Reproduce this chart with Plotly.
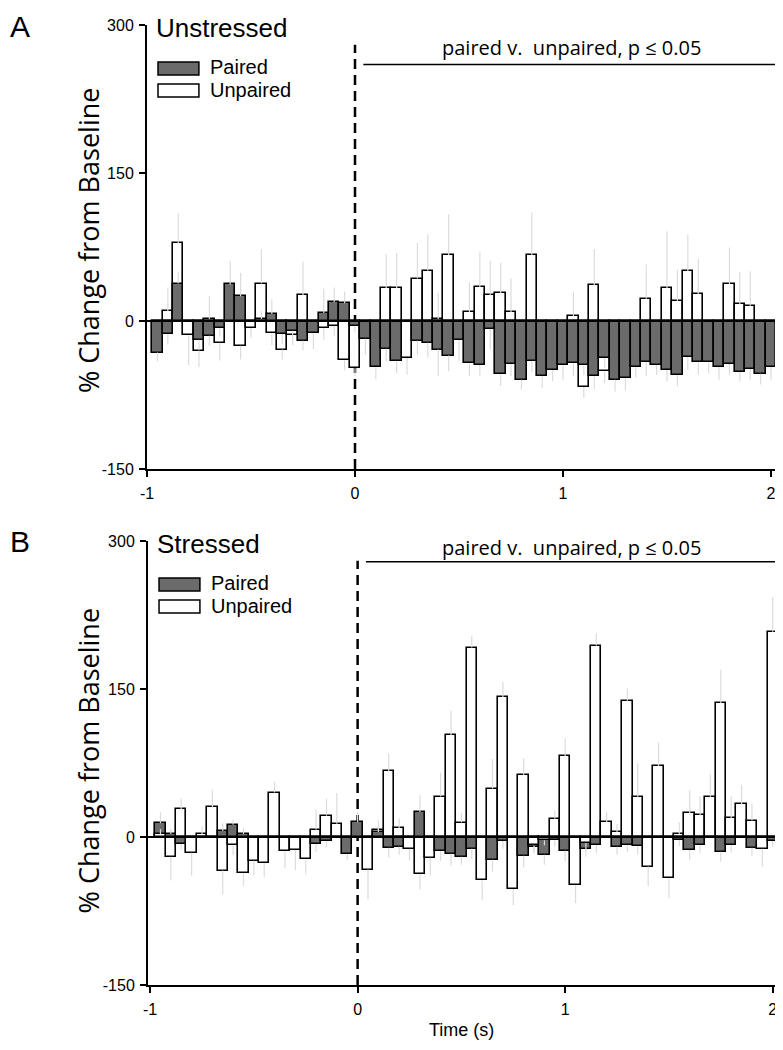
import plotly.graph_objects as go

# ---------------- data ----------------
time_bins = [-0.95, -0.90, -0.85, -0.80, -0.75, -0.70, -0.65, -0.60, -0.55, -0.50,
             -0.45, -0.40, -0.35, -0.30, -0.25, -0.20, -0.15, -0.10, -0.05, 0.00,
             0.05, 0.10, 0.15, 0.20, 0.25, 0.30, 0.35, 0.40, 0.45, 0.50,
             0.55, 0.60, 0.65, 0.70, 0.75, 0.80, 0.85, 0.90, 0.95, 1.00,
             1.05, 1.10, 1.15, 1.20, 1.25, 1.30, 1.35, 1.40, 1.45, 1.50,
             1.55, 1.60, 1.65, 1.70, 1.75, 1.80, 1.85, 1.90, 1.95, 2.00]

# Panel A - Unstressed
unstressed_paired = [-32, -13.5, 38, 0, -19, -15, -7.5, 37, 25, 0,
                     2, 7, -13.5, -10, -20, -12.5, 8, 19, 18, -5,
                     -18, -47, -28, -41, 0, -20, -22, -29, -35, -19.6,
                     -43, -44.6, -8, -54, -43.6, -59.5, -41, -56, -50, -45,
                     -42.6, -45, -56, -37.5, -59.5, -58, -46.6, -42, -44.6, -49.7,
                     -54.7, -36.5, -42, -42, -46.6, -43.6, -51.7, -48.6, -53.4, -46.6]
unstressed_unpaired = [0, 10, 79, -14.5, -30, 2, -22, 0, -25, -7,
                       38, -12.5, -29, -14.5, 26, 0, -7, -5, -40, -48,
                       0, 0, 33, 33, -37.5, 43, 51, 2, 67, 0,
                       9, 34.5, 26, 28, 9, 0, 67, 0, 0, 0,
                       4.7, -67, 36, -51, 0, 0, 0, 22.5, 0, 33,
                       20, 50.5, 27, 0, 0, 37.5, 17, 15.5, 0, 0]
unstressed_paired_err = [9, 10, 12, 0, 10, 10, 8, 24, 24, 0,
                         8, 15, 10, 8, 10, 16, 25, 15, 12, 6,
                         16, 12, 12.5, 12, 0, 14, 15, 27, 16, 21,
                         13, 11.5, 21, 12, 12.5, 10, 11, 12, 11, 14.5,
                         13.5, 10, 13.5, 10, 12, 12, 11, 14, 10, 11.5,
                         11.5, 13, 12.5, 11, 13, 11, 9.5, 11, 11, 13]
unstressed_unpaired_err = [0, 24, 30, 30, 17, 23, 18, 0, 14, 10,
                           35, 12, 10, 10, 34, 0, 12, 10, 10, 8,
                           0, 0, 35, 36, 17, 36, 37, 26, 41, 0,
                           30, 35, 35, 31, 34, 0, 43, 0, 0, 0,
                           25, 11, 37, 12, 0, 0, 0, 35, 0, 58,
                           32, 37, 36, 0, 0, 37, 33, 35, 0, 0]

# Panel B - Stressed
stressed_paired = [14, 3, -7, 0, 0, 0, 6, 12.5, 3, 0,
                   0, 0, 0, 0, 0, -7, -4.5, 0, -17.6, 15,
                   0, 5, -11, -10, 0, 25.4, 0, -14.6, -17, -20,
                   -12, 0, -23, -4, 0, -19, -10, -18, -3.4, -14,
                   0, -12, -8, 0, -10, -8, -9.5, 0, 0, 0,
                   -3, -13.5, -8.5, 0, -15, -8, 0, -11, 0, -4]
stressed_unpaired = [3, -20, 28, -16, 3, 30, -34, -8.5, -36.5, -24,
                     -26.5, 45, -14.5, -13.5, -22.7, 7.5, 21.7, 13.5, 0, 0,
                     -33, 7, 67, 9, -12, -38, -21, 41, 103, 14.6,
                     192, -44, 49, 142, -53, 62.7, -8.5, -3.4, 18.6, 82,
                     -49, -6, 194, 15, 5, 138, 40.7, -30, 72, -42,
                     3, 24.4, 22, 40.7, 135.6, 19.3, 33, 16.6, -12, 208]
stressed_paired_err = [11, 5, 6, 0, 0, 0, 8, 5, 6, 0,
                       0, 0, 0, 0, 0, 8, 6, 0, 6, 10,
                       0, 6, 10, 8, 0, 17, 0, 10, 12, 8,
                       10, 0, 12, 8, 0, 12, 6, 10, 6, 10,
                       0, 8, 8, 0, 8, 7, 8, 0, 0, 0,
                       6, 10, 8, 0, 10, 8, 0, 8, 0, 6]
stressed_unpaired_err = [5, 24, 11, 23, 8, 18, 24, 10, 13, 15,
                         14, 11, 17, 20, 15, 20, 17, 31, 0, 0,
                         30, 10, 18, 10, 12, 15, 18, 24, 25, 10,
                         12, 20, 30, 15, 16, 17, 8, 5, 8, 18,
                         18, 8, 12, 10, 8, 12.5, 34, 20, 24, 20,
                         12, 23, 19, 23, 34, 22, 20, 17, 18, 35]

y_ticks = [-150, 0, 150, 300]
y_tick_labels = ["-150", "0", "150", "300"]
x_ticks = [-1, 0, 1, 2]
x_tick_labels = ["-1", "0", "1", "2"]
panel_titles = ["Unstressed", "Stressed"]
series_names = ["Paired", "Unpaired"]
sig_text = "paired v.  unpaired, p \u2264 0.05"

# ---------------- style ----------------
DARK = "#6b6b6b"
ERR = "#dcdcdc"
ARIAL = "Liberation Sans, Arial, sans-serif"
MYRIAD = "Open Sans, Liberation Sans, sans-serif"

fig = go.Figure()


def err_arrays(vals, errs):
    plus = [e if (v is not None and v > 0) else 0 for v, e in zip(vals, errs)]
    minus = [e if (v is not None and v < 0) else 0 for v, e in zip(vals, errs)]
    return plus, minus


def add_bar(vals, errs, color, xa, ya, name):
    plus, minus = err_arrays(vals, errs)
    fig.add_trace(go.Bar(
        x=time_bins, y=vals, width=0.05, name=name, showlegend=False,
        marker=dict(color=color, line=dict(color="black", width=1.6)),
        error_y=dict(type="data", symmetric=False, array=plus, arrayminus=minus,
                     color=ERR, thickness=1.2, width=0),
        xaxis=xa, yaxis=ya, hoverinfo="x+y"))


def add_panel(paired, unpaired, perr, uerr, xa, ya):
    # the smaller of two same-signed bars is drawn in front
    front = [(u * p > 0 and abs(u) < abs(p)) for p, u in zip(paired, unpaired)]
    u_back = [None if f else u for u, f in zip(unpaired, front)]
    u_front = [u if f else None for u, f in zip(unpaired, front)]
    add_bar(u_back, uerr, "white", xa, ya, series_names[1])
    add_bar(paired, perr, DARK, xa, ya, series_names[0])
    add_bar(u_front, uerr, "white", xa, ya, series_names[1])


add_panel(unstressed_paired, unstressed_unpaired,
          unstressed_paired_err, unstressed_unpaired_err, "x", "y")
add_panel(stressed_paired, stressed_unpaired,
          stressed_paired_err, stressed_unpaired_err, "x2", "y2")

axis_common = dict(showline=True, linecolor="black", linewidth=2,
                   ticks="outside", ticklen=6, tickwidth=1.6, tickcolor="black",
                   showgrid=False, zeroline=False,
                   tickfont=dict(family=ARIAL, size=16, color="black"))

# page body has an 8px default margin: figure sized/margined to compensate
fig.update_layout(
    width=775, height=1042,
    margin=dict(l=139, r=2, t=17, b=65),
    paper_bgcolor="white", plot_bgcolor="white",
    barmode="overlay", bargap=0,
    showlegend=False,
    xaxis=dict(domain=[0, 0.9984], range=[-1, 2.043], tickvals=x_ticks, ticktext=x_tick_labels,
               anchor="y", ticklabelstandoff=3, **axis_common),
    yaxis=dict(domain=[0.5375, 1], range=[-150, 300], tickvals=y_ticks, ticktext=y_tick_labels,
               anchor="x", ticklabelstandoff=2, **axis_common),
    xaxis2=dict(domain=[0.0016, 1], range=[-1.01, 2.04], tickvals=x_ticks, ticktext=x_tick_labels,
                anchor="y2", ticklabelstandoff=3, **axis_common),
    yaxis2=dict(domain=[0, 0.4625], range=[-150, 300], tickvals=y_ticks, ticktext=y_tick_labels,
                anchor="x2", ticklabelstandoff=2, **axis_common),
)

shapes = []
annotations = []
panels = [("x", "y", 2.043, 260, 277, 1.04, 0.776, 1.0177, "A"),
          ("x2", "y2", 2.04, 279, 293, 1.03, 0.234, 0.481, "B")]
for i, (xa, ya, xmax, sig_y, sig_ty, sig_tx, ylab_y, letter_y, letter) in enumerate(panels):
    shapes.append(dict(type="line", xref=xa, yref=ya, x0=0, x1=0, y0=-150, y1=280,
                       line=dict(color="black", width=2.5, dash="10px,6px"), layer="below"))
    shapes.append(dict(type="line", xref=xa, yref=ya, x0=-1.01, x1=xmax, y0=0, y1=0,
                       line=dict(color="black", width=2), layer="above"))
    shapes.append(dict(type="line", xref=xa, yref=ya, x0=0.04, x1=xmax, y0=sig_y, y1=sig_y,
                       line=dict(color="black", width=1.5)))
    annotations.append(dict(text=sig_text, xref=xa, yref=ya, x=sig_tx, y=sig_ty,
                            showarrow=False, xanchor="center", yanchor="middle",
                            font=dict(family=MYRIAD, size=20, color="black")))
    annotations.append(dict(text=panel_titles[i], xref=xa + " domain", yref=ya, x=0.011, y=297,
                            showarrow=False, xanchor="left", yanchor="middle",
                            font=dict(family=ARIAL, size=26, color="black")))
    dom = xa + " domain"
    ydom = ya + " domain"
    shapes.append(dict(type="rect", xref=dom, yref=ydom, x0=0.0174, x1=0.082,
                       y0=0.8874, y1=0.9167, fillcolor=DARK,
                       line=dict(color="black", width=1.5)))
    shapes.append(dict(type="rect", xref=dom, yref=ydom, x0=0.0174, x1=0.082,
                       y0=0.8378, y1=0.8671, fillcolor="white",
                       line=dict(color="black", width=1.5)))
    annotations.append(dict(text=series_names[0], xref=dom, yref=ydom, x=0.097, y=0.905,
                            showarrow=False, xanchor="left", yanchor="middle",
                            font=dict(family=ARIAL, size=20, color="black")))
    annotations.append(dict(text=series_names[1], xref=dom, yref=ydom, x=0.097, y=0.853,
                            showarrow=False, xanchor="left", yanchor="middle",
                            font=dict(family=ARIAL, size=20, color="black")))
    annotations.append(dict(text="% Change from Baseline", xref="paper", yref="paper",
                            x=-0.093, y=ylab_y, textangle=-90, showarrow=False,
                            xanchor="center", yanchor="middle",
                            font=dict(family=MYRIAD, size=27, color="black")))
    annotations.append(dict(text=letter, xref="paper", yref="paper", x=-0.219, y=letter_y,
                            showarrow=False, xanchor="left", yanchor="top",
                            font=dict(family=ARIAL, size=30, color="black")))

annotations.append(dict(text="Time (s)", xref="paper", yref="paper", x=0.496, y=-0.047,
                        showarrow=False, xanchor="center", yanchor="middle",
                        font=dict(family=ARIAL, size=18, color="black")))

fig.update_layout(shapes=shapes, annotations=annotations)
fig.write_html("out.html")
